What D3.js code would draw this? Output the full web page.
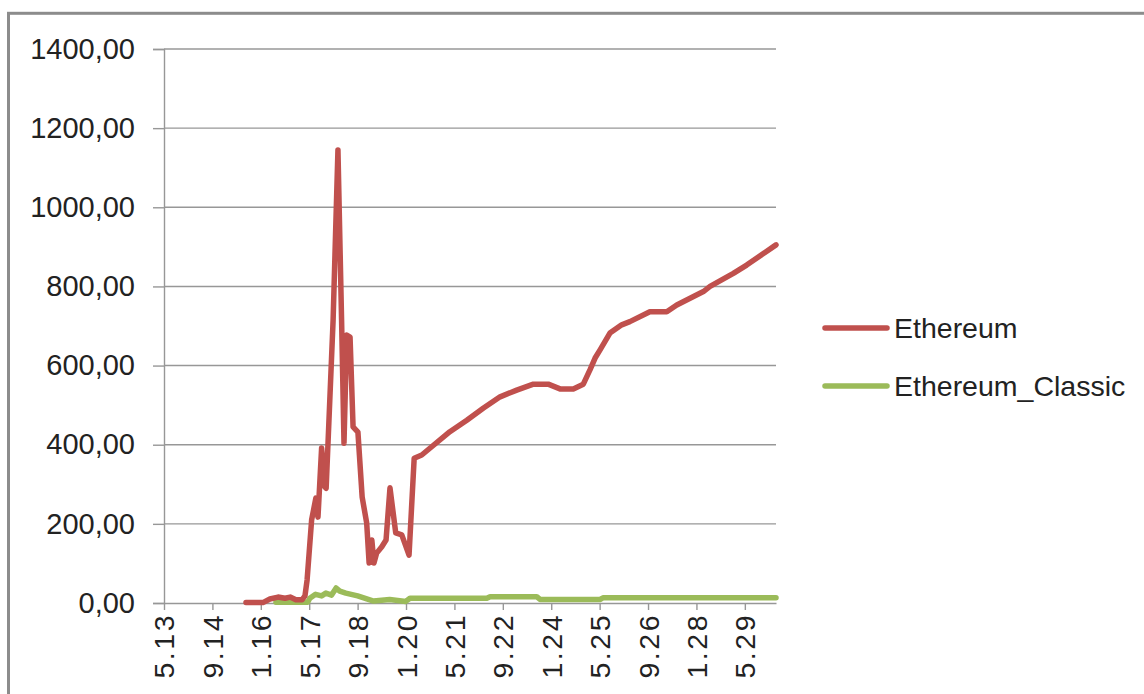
<!DOCTYPE html>
<html>
<head>
<meta charset="utf-8">
<script src="https://cdn.jsdelivr.net/npm/d3@7"></script>
<style>
  html, body { margin: 0; padding: 0; background: #fff; }
  svg { display: block; font-family: "Liberation Sans", Arial, sans-serif; }
</style>
</head>
<body>
<svg id="chart" width="1144" height="694"></svg>
<script>
// Month offsets since May 2013 (tick every 16 months)
const tickLabels = ["5.13","9.14","1.16","5.17","9.18","1.20","5.21","9.22","1.24","5.25","9.26","1.28","5.29"];
const tickMonths = [0,16,32,48,64,80,96,112,128,144,160,176,192];
const yTicks = [0,200,400,600,800,1000,1200,1400];

const ethMonths = [27.1,32.7,35.0,37.7,40.0,41.7,43.6,45.6,46.6,47.3,48.8,50.2,50.9,52.1,53.2,53.6,55.9,57.5,58.7,59.5,60.4,61.5,62.5,64.1,65.5,67.0,67.8,68.7,69.4,70.3,72.0,73.4,74.7,76.6,78.6,81.0,82.7,85.2,94.5,100.1,105.5,111.1,116.6,122.1,127.0,130.9,135.3,138.6,140.8,142.5,144.1,147.4,151.3,154.0,160.6,166.2,169.5,178.3,180.5,188.2,192.6,202.3];
const ethValues = [1,1,10,15,12,15,8,8,18,58,210,265,217,392,293,290,715,1145,715,404,677,672,445,432,268,202,101,159,101,126,142,159,291,177,172,121,366,374,433,462,492,521,538,553,553,541,541,553,589,619,639,682,703,711,736,736,753,787,800,833,854,905];

const etcMonths = [37.0,47.5,48.2,50.1,52.1,53.5,55.4,56.9,58.1,60.1,64.0,69.3,74.6,79.9,81.3,106.7,107.8,123.2,124.3,144.1,145.1,202.3];
const etcValues = [2,2,12,22,18,25,20,38,30,25,18,5,9,4,12,12,16,16,9,9,13,13];

const seriesNames = ["Ethereum","Ethereum_Classic"];
const seriesColors = ["#C0504D","#9BBB59"];

(function () {
const svg = d3.select("#chart");
const pLeft = 164, pRight = 776, pTop = 49, pBottom = 603;
const textColor = "#222";

// outer border
svg.append("rect").attr("x", 8.5).attr("y", 13.3).attr("width", 1150).attr("height", 700)
  .attr("fill", "none").attr("stroke", "#8c8c8c").attr("stroke-width", 3);

const x = d3.scaleLinear().domain([0, 202.3]).range([pLeft, pRight]);
const y = d3.scaleLinear().domain([0, 1400]).range([pBottom, pTop]);

// gridlines
svg.append("g").selectAll("line").data(yTicks.filter(d => d > 0)).join("line")
  .attr("x1", pLeft).attr("x2", pRight)
  .attr("y1", d => y(d)).attr("y2", d => y(d))
  .attr("stroke", "#979797").attr("stroke-width", 1.4);

// y axis
const yAxis = d3.axisLeft(y).tickValues(yTicks).tickSize(11).tickPadding(18)
  .tickFormat(d => d3.format(".2f")(d).replace(".", ","));
const gy = svg.append("g").attr("transform", `translate(${pLeft},0)`).call(yAxis);
gy.select(".domain").attr("stroke", "#979797").attr("stroke-width", 1.4);
gy.selectAll(".tick line").attr("stroke", "#979797").attr("stroke-width", 1.4);
gy.selectAll(".tick text").attr("font-size", 29).attr("fill", textColor)
  .attr("font-family", "Liberation Sans, Arial, sans-serif");

// x axis
const xAxis = d3.axisBottom(x).tickValues(tickMonths).tickSize(7).tickSizeOuter(0)
  .tickFormat((d, i) => tickLabels[i]);
const gx = svg.append("g").attr("transform", `translate(0,${pBottom})`).call(xAxis);
gx.select(".domain").attr("stroke", "#979797").attr("stroke-width", 1.4);
gx.selectAll(".tick line").attr("stroke", "#979797").attr("stroke-width", 1.4);
gx.selectAll(".tick text")
  .attr("font-size", 28.5).attr("fill", textColor)
  .attr("font-family", "Liberation Sans, Arial, sans-serif")
  .attr("letter-spacing", 2.5)
  .attr("text-anchor", "end")
  .attr("transform", "rotate(-90)")
  .attr("x", -10).attr("y", 0).attr("dy", "0.35em");

// lines
const line = d3.line().x(d => x(d[0])).y(d => y(d[1]));
const ethData = ethMonths.map((m, i) => [m, ethValues[i]]);
const etcData = etcMonths.map((m, i) => [m, etcValues[i]]);

svg.append("path").datum(etcData).attr("d", line)
  .attr("fill", "none").attr("stroke", seriesColors[1]).attr("stroke-width", 5.5)
  .attr("stroke-linejoin", "round").attr("stroke-linecap", "round");
svg.append("path").datum(ethData).attr("d", line)
  .attr("fill", "none").attr("stroke", seriesColors[0]).attr("stroke-width", 5.5)
  .attr("stroke-linejoin", "round").attr("stroke-linecap", "round");

// legend
const legendY = [328, 386];
const lg = svg.append("g");
seriesNames.forEach((name, i) => {
  lg.append("line").attr("x1", 825).attr("x2", 887)
    .attr("y1", legendY[i]).attr("y2", legendY[i])
    .attr("stroke", seriesColors[i]).attr("stroke-width", 5.5).attr("stroke-linecap", "round");
  lg.append("text").attr("x", 894).attr("y", legendY[i] + 10)
    .attr("font-size", 28.5).attr("fill", textColor).text(name);
});
})();
</script>
</body>
</html>
